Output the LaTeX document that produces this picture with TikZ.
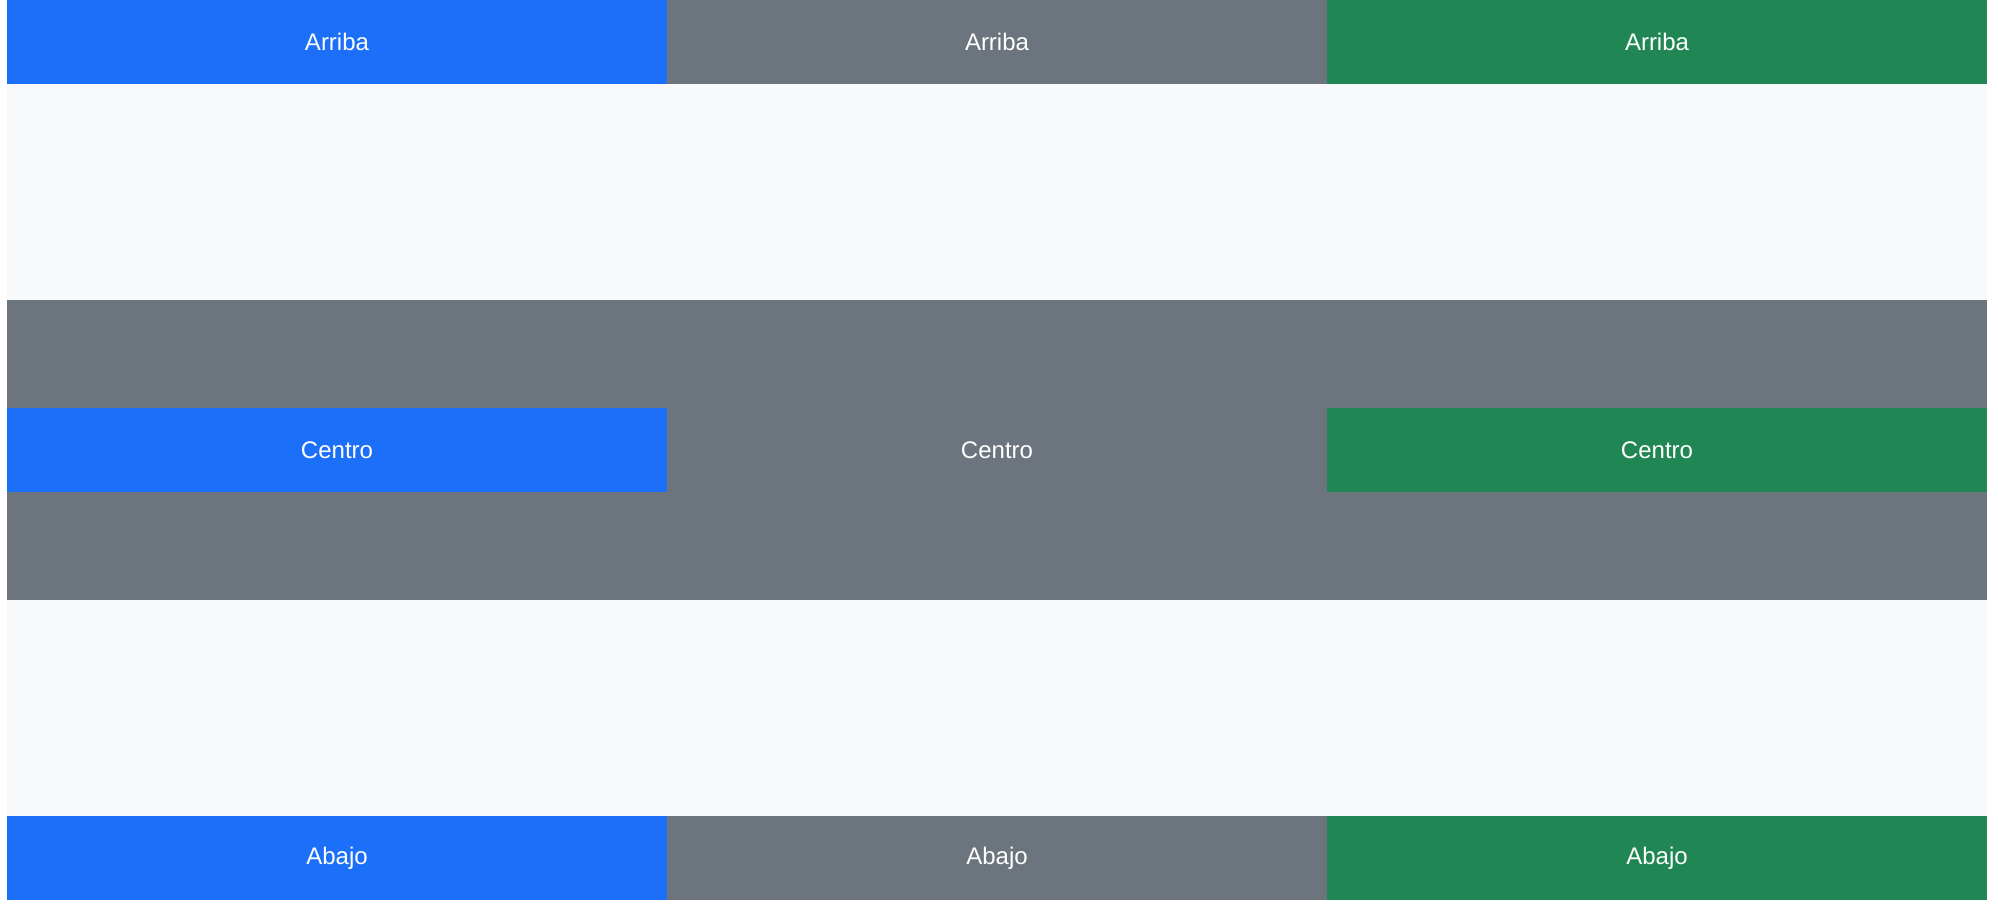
\documentclass[tikz,border=0pt]{standalone}
\usepackage{fontspec}
\setmainfont{Liberation Sans}
\definecolor{bsblue}{HTML}{1C6FF8}
\definecolor{bsgray}{HTML}{6C757D}
\definecolor{bsgreen}{HTML}{208754}
\definecolor{bslight}{HTML}{F8F9FA}
\tikzset{every picture/.style={line width=0.75pt}}
\begin{document}
\begin{tikzpicture}[x=1pt,y=1pt,yscale=-1,xscale=1,
  cell/.style={minimum width=660pt,minimum height=84pt,inner sep=0pt,text=white,font=\fontsize{24}{28}\selectfont}]
\useasboundingbox (0,0) rectangle (1998,912);

%Shape: Rectangle [light area]
\fill [bslight] (7,84) -- (1987,84) -- (1987,816) -- (7,816) -- cycle ;
%Shape: Rectangle [gray band]
\fill [bsgray] (7,300) -- (1987,300) -- (1987,600) -- (7,600) -- cycle ;

% Text Node
\node [cell,fill=bsblue] (arriba1) at (337,42) {Arriba};
% Text Node
\node [cell,fill=bsgray] (arriba2) at (997,42) {Arriba};
% Text Node
\node [cell,fill=bsgreen] (arriba3) at (1657,42) {Arriba};

% Text Node
\node [cell,fill=bsblue] (centro1) at (337,450) {Centro};
% Text Node
\node [cell,fill=bsgray] (centro2) at (997,450) {Centro};
% Text Node
\node [cell,fill=bsgreen] (centro3) at (1657,450) {Centro};

% Text Node
\node [cell,fill=bsblue] (abajo1) at (337,858) {Abajo};
% Text Node
\node [cell,fill=bsgray] (abajo2) at (997,858) {Abajo};
% Text Node
\node [cell,fill=bsgreen] (abajo3) at (1657,858) {Abajo};

\end{tikzpicture}
\end{document}
